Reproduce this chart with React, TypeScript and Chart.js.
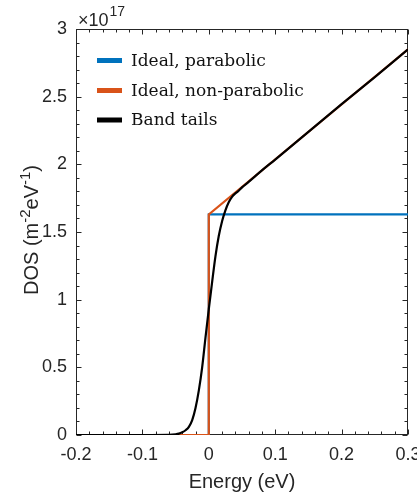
import { useEffect, useRef } from 'react';
import { Chart, registerables } from 'chart.js';

Chart.register(...registerables);

// ---- data (DOS in units of 1e17 m^-2 eV^-1) ----
const idealEnergy = [-0.2, 0, 0, 0.3];
const parabolicDOS = [0, 0, 1.63, 1.63];
const nonParabolicDOS = [0, 0, 1.63, 2.85];

const tailEnergy = [
  -0.2, -0.1, -0.06, -0.05, -0.045, -0.04, -0.035, -0.03, -0.025, -0.02, -0.015, -0.01, -0.005,
  0, 0.005, 0.01, 0.015, 0.02, 0.025, 0.03, 0.035, 0.04, 0.045, 0.05, 0.06, 0.08, 0.1, 0.15,
  0.2, 0.25, 0.3,
];
const tailDOS = [
  0, 0, 0.001, 0.005, 0.01, 0.02, 0.035, 0.06, 0.11, 0.2, 0.33, 0.5, 0.72,
  0.93, 1.13, 1.32, 1.47, 1.58, 1.66, 1.72, 1.76, 1.785, 1.805, 1.83, 1.87, 1.955, 2.035, 2.24,
  2.445, 2.645, 2.85,
];

const seriesLabels = ['Ideal, parabolic', 'Ideal, non-parabolic', 'Band tails'];
const seriesColors = ['#0072BD', '#D95319', '#000000'];

const xTicks = [-0.2, -0.1, 0, 0.1, 0.2, 0.3];
const yTicks = [0, 0.5, 1, 1.5, 2, 2.5, 3];
const yExponent = '17';
const xTitle = 'Energy (eV)';

const AXIS_COLOR = '#262626';
const SANS = '"Liberation Sans", Arial, sans-serif';
const SERIF = '"DejaVu Serif", "Liberation Serif", serif';

const toPoints = (xs: number[], ys: number[]) => xs.map((x, i) => ({ x, y: ys[i] }));

const fmt = (v: number) => {
  const r = Math.round(v * 10) / 10;
  return r === 0 ? '0' : String(r);
};

const decorPlugin = {
  id: 'matlabDecor',
  beforeDatasetsDraw(chart: any) {
    const { ctx, chartArea: a, scales } = chart;
    const xs = scales.x;
    const ys = scales.y;
    ctx.save();
    ctx.strokeStyle = AXIS_COLOR;
    ctx.lineWidth = 1;
    const L = Math.round(a.left) + 0.5;
    const R = Math.round(a.right) - 0.5;
    const T = Math.round(a.top) + 0.5;
    const B = Math.round(a.bottom) - 0.5;
    ctx.strokeRect(L, T, R - L, B - T);
    ctx.beginPath();
    for (let i = 0; i <= 25; i++) {
      const v = -0.2 + i * 0.02;
      const len = i % 5 === 0 ? 5 : 3;
      const px = Math.round(xs.getPixelForValue(v)) + 0.5;
      ctx.moveTo(px, B);
      ctx.lineTo(px, B - len);
      ctx.moveTo(px, T);
      ctx.lineTo(px, T + len);
    }
    for (let i = 0; i <= 30; i++) {
      const v = i * 0.1;
      const len = i % 5 === 0 ? 5 : 3;
      const py = Math.round(ys.getPixelForValue(v)) + 0.5;
      ctx.moveTo(L, py);
      ctx.lineTo(L + len, py);
      ctx.moveTo(R, py);
      ctx.lineTo(R - len, py);
    }
    ctx.stroke();
    ctx.restore();
  },
  afterDraw(chart: any) {
    const { ctx, chartArea: a } = chart;
    ctx.save();
    // exponent label
    ctx.fillStyle = AXIS_COLOR;
    ctx.textBaseline = 'alphabetic';
    ctx.textAlign = 'left';
    ctx.font = `18px ${SANS}`;
    const base = '\u00D710';
    ctx.fillText(base, a.left + 2, 26);
    const w = ctx.measureText(base).width;
    ctx.font = `14px ${SANS}`;
    ctx.fillText(yExponent, a.left + 2 + w + 1, 16);

    // x title
    ctx.font = `20px ${SANS}`;
    ctx.textAlign = 'center';
    ctx.fillText(xTitle, (a.left + a.right) / 2, 488);

    // y title with superscripts
    const parts: [string, boolean][] = [
      ['DOS (m', false],
      ['-2', true],
      ['eV', false],
      ['-1', true],
      [')', false],
    ];
    const big = `20px ${SANS}`;
    const small = `15px ${SANS}`;
    let total = 0;
    const widths = parts.map(([t, sup]) => {
      ctx.font = sup ? small : big;
      const ww = ctx.measureText(t).width;
      total += ww;
      return ww;
    });
    ctx.translate(38, 230);
    ctx.rotate(-Math.PI / 2);
    ctx.textAlign = 'left';
    ctx.textBaseline = 'alphabetic';
    let cx = -total / 2;
    parts.forEach(([t, sup], i) => {
      ctx.font = sup ? small : big;
      ctx.fillText(t, cx, sup ? -8 : 0);
      cx += widths[i];
    });
    ctx.setTransform(1, 0, 0, 1, 0, 0);

    // legend
    const rows = [60.5, 90.5, 120];
    ctx.font = `17px ${SERIF}`;
    ctx.textBaseline = 'middle';
    ctx.textAlign = 'left';
    chart.data.datasets.forEach((ds: any, i: number) => {
      ctx.fillStyle = ds.borderColor;
      ctx.fillRect(97, rows[i] - 2.5, 25, 5);
      ctx.fillStyle = '#111111';
      ctx.fillText(ds.label, 131, rows[i] + 1);
    });
    ctx.restore();
  },
};

export default function App() {
  const ref = useRef<HTMLCanvasElement | null>(null);

  useEffect(() => {
    document.body.style.margin = '0';
    document.body.style.overflow = 'hidden';
    const canvas = ref.current;
    if (!canvas) return;
    const chart = new Chart(canvas, {
      type: 'line',
      data: {
        datasets: [
          {
            label: seriesLabels[0],
            data: toPoints(idealEnergy, parabolicDOS),
            borderColor: seriesColors[0],
            borderWidth: 2.2,
            pointRadius: 0,
            tension: 0,
            order: 3,
          },
          {
            label: seriesLabels[1],
            data: toPoints(idealEnergy, nonParabolicDOS),
            borderColor: seriesColors[1],
            borderWidth: 2.2,
            pointRadius: 0,
            tension: 0,
            order: 2,
          },
          {
            label: seriesLabels[2],
            data: toPoints(tailEnergy, tailDOS),
            borderColor: seriesColors[2],
            borderWidth: 2.2,
            pointRadius: 0,
            cubicInterpolationMode: 'monotone',
            order: 1,
          },
        ],
      },
      options: {
        responsive: false,
        animation: false,
        events: [],
        layout: { padding: { top: 29, right: 9, bottom: 0, left: 0 } },
        plugins: { legend: { display: false }, tooltip: { enabled: false } },
        scales: {
          x: {
            type: 'linear',
            min: -0.2,
            max: 0.3,
            grid: { display: false, drawTicks: false },
            border: { display: false },
            afterBuildTicks: (s: any) => {
              s.ticks = xTicks.map((v) => ({ value: v }));
            },
            afterFit: (s: any) => {
              s.height = 64;
              s.paddingLeft = 0;
              s.paddingRight = 0;
            },
            ticks: {
              autoSkip: false,
              maxRotation: 0,
              padding: 9,
              color: AXIS_COLOR,
              font: { family: SANS, size: 18 },
              callback: (v: any) => fmt(Number(v)),
            },
          },
          y: {
            type: 'linear',
            min: 0,
            max: 3,
            grid: { display: false, drawTicks: false },
            border: { display: false },
            afterBuildTicks: (s: any) => {
              s.ticks = yTicks.map((v) => ({ value: v }));
            },
            afterFit: (s: any) => {
              s.width = 76;
              s.paddingTop = 0;
              s.paddingBottom = 0;
            },
            ticks: {
              autoSkip: false,
              padding: 9,
              color: AXIS_COLOR,
              font: { family: SANS, size: 18 },
              callback: (v: any) => fmt(Number(v)),
            },
          },
        },
      },
      plugins: [decorPlugin],
    } as any);
    return () => chart.destroy();
  }, []);

  return (
    <div style={{ width: 417, height: 499, background: '#ffffff' }}>
      <canvas ref={ref} width={417} height={499} style={{ display: 'block' }} />
    </div>
  );
}
